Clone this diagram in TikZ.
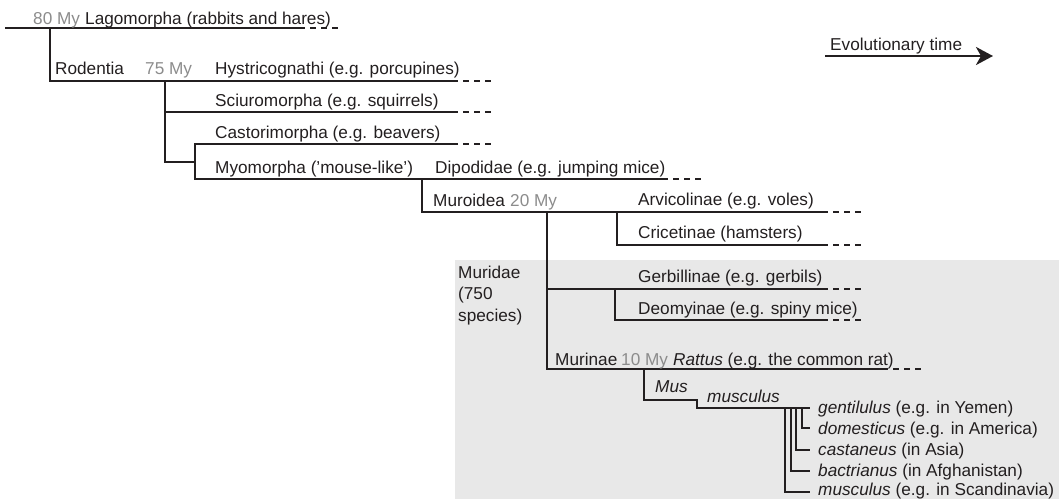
\documentclass[tikz,border=0pt]{standalone}
\usepackage{fontspec}
\setmainfont{Liberation Sans}
\usetikzlibrary{arrows.meta, positioning}
\definecolor{linkblack}{RGB}{35,31,32}
\definecolor{agegray}{RGB}{140,140,140}
\definecolor{boxgray}{RGB}{232,232,232}

\begin{document}
\begin{tikzpicture}[x=1pt, y=-1pt,
  every node/.style={font=\fontsize{17.2}{21.5}\selectfont, inner sep=0pt, text=linkblack},
  branch/.style={line width=2.8pt, draw=linkblack},
  tail/.style={branch, dash pattern=on 6pt off 5pt, dash phase=6pt},
  taxon/.style={anchor=base west},
  age/.style={anchor=base west, text=agegray}]
  \useasboundingbox (0,0) rectangle (1059,499);

  % Muridae background
  \fill[boxgray] (455,260) rectangle (1059,499);

  % Branch points and leaf ends
  \coordinate (root) at (5,28);
  \coordinate (lago) at (305,28);
  \coordinate (rod)  at (50,28);
  \coordinate (hys)  at (458,81);
  \coordinate (j75)  at (165,81);
  \coordinate (sci)  at (458,112);
  \coordinate (cas)  at (458,144);
  \coordinate (jmyo) at (195,162);
  \coordinate (dip)  at (668,179);
  \coordinate (jmur) at (422,179);
  \coordinate (arv)  at (828,212);
  \coordinate (jcri) at (617,212);
  \coordinate (cri)  at (828,245);
  \coordinate (j20)  at (547,212);
  \coordinate (ger)  at (828,289);
  \coordinate (jdeo) at (615,289);
  \coordinate (deo)  at (828,320);
  \coordinate (rat)  at (888,369);
  \coordinate (jmus) at (644,369);
  \coordinate (jmm)  at (697,400);
  \coordinate (gen)  at (810,408);

  % Tree
  \draw[branch] (root) -- (lago);
  \draw[branch] (rod) |- (hys);
  \draw[branch] (j75) |- (sci);
  \draw[branch] (j75) |- (jmyo);
  \draw[branch] (cas) -| (jmyo) |- (dip);
  \draw[branch] (jmur) |- (arv);
  \draw[branch] (jcri) |- (cri);
  \draw[branch] (j20) |- (ger);
  \draw[branch] (j20) |- (rat);
  \draw[branch] (jdeo) |- (deo);
  \draw[branch] (jmus) |- (jmm) |- (gen);

  % Subspecies of Mus musculus
  \foreach \x/\y/\n in {802/428/dom, 796/450/cst, 791/471/bac, 785/492/msc}{
    \coordinate (j\n) at (\x,408);
    \coordinate (\n) at (810,\y);
    \draw[branch] (j\n) |- (\n);
  }

  % Dashed tails
  \foreach \n in {lago,hys,sci,cas,dip,arv,cri,ger,deo,rat}
    \draw[tail] (\n) -- ++(33,0);

  % Labels
  \node[age]   (age80) at (33,24)  {80 My};
  \node[taxon] (lagomorpha) at (85,24) {Lagomorpha (rabbits and hares)};
  \node[taxon] (rodentia) at (55,74) {Rodentia};
  \node[age]   (age75) at (145,74) {75 My};
  \node[taxon] (hystricognathi) at (215,74) {Hystricognathi (e.g. porcupines)};
  \node[taxon] (sciuromorpha) at (215,106) {Sciuromorpha (e.g. squirrels)};
  \node[taxon] (castorimorpha) at (215,138) {Castorimorpha (e.g. beavers)};
  \node[taxon] (myomorpha) at (215,173) {Myomorpha (’mouse-like’)};
  \node[taxon] (dipodidae) at (435,173) {Dipodidae (e.g. jumping mice)};
  \node[taxon] (muroidea) at (433,206) {Muroidea};
  \node[age]   (age20) at (510,206) {20 My};
  \node[taxon] (arvicolinae) at (638,205) {Arvicolinae (e.g. voles)};
  \node[taxon] (cricetinae) at (638,238) {Cricetinae (hamsters)};
  \node[taxon, align=left] (muridae) at (458,321) {Muridae\\(750\\species)};
  \node[taxon] (gerbillinae) at (638,282) {Gerbillinae (e.g. gerbils)};
  \node[taxon] (deomyinae) at (638,314) {Deomyinae (e.g. spiny mice)};
  \node[taxon] (murinae) at (555,365) {Murinae};
  \node[age]   (age10) at (621,365) {10 My};
  \node[taxon] (rattus) at (673,365) {\textit{Rattus} (e.g. the common rat)};
  \node[taxon] (mus) at (655,392) {\textit{Mus}};
  \node[taxon] (musculus) at (707,402) {\textit{musculus}};
  \node[taxon] (gentilulus) at (818,413) {\textit{gentilulus} (e.g. in Yemen)};
  \node[taxon] (domesticus) at (818,434) {\textit{domesticus} (e.g. in America)};
  \node[taxon] (castaneus) at (818,455) {\textit{castaneus} (in Asia)};
  \node[taxon] (bactrianus) at (818,476) {\textit{bactrianus} (in Afghanistan)};
  \node[taxon] (muscsub) at (818,495) {\textit{musculus} (e.g. in Scandinavia)};

  % Time arrow
  \node[taxon] (evol) at (830,50) {Evolutionary time};
  \coordinate (tstart) at (825,56);
  \coordinate (tend) at (993,56);
  \draw[branch, -{Stealth[length=17pt, width=18pt, inset=5pt]}] (tstart) -- (tend);
\end{tikzpicture}
\end{document}
